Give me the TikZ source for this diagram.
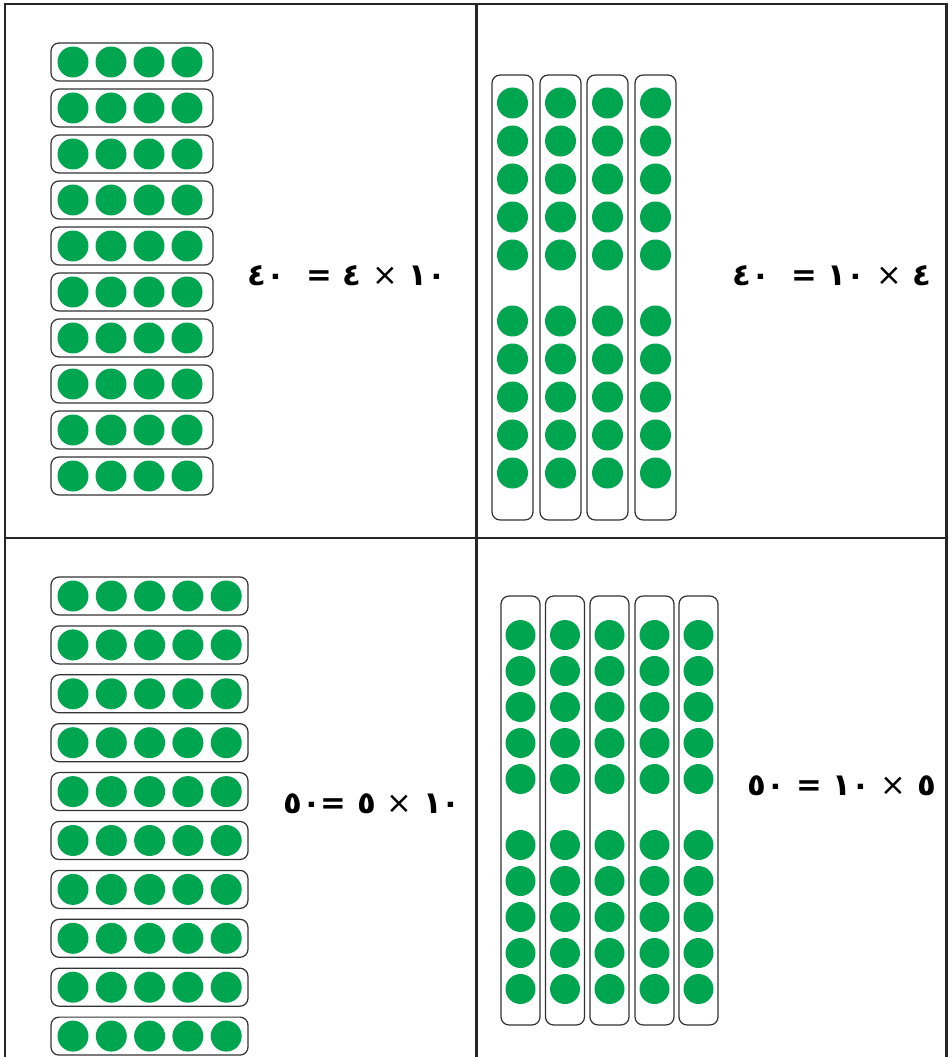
\documentclass[tikz,border=0pt]{standalone}
\usepackage{fontspec}
\newfontfamily\arabicfont{DejaVu Sans}
\definecolor{dotgreen}{RGB}{0,165,80}
\newcommand{\tms}{{\mdseries ×}}
\tikzset{
  dot/.style={circle, fill=dotgreen, inner sep=0pt, minimum size=0.62cm},
  smalldot/.style={circle, fill=dotgreen, inner sep=0pt, minimum size=0.6cm},
  rowbox/.style={draw=black!80, line width=0.7pt, rounded corners=0.16cm, minimum height=0.76cm, inner sep=0pt},
  colbox/.style={draw=black!80, line width=0.7pt, rounded corners=0.16cm, inner sep=0pt},
  eqn/.style={font=\arabicfont\bfseries\fontsize{17.5}{20}\selectfont, inner sep=0pt}
}
\begin{document}
\begin{tikzpicture}[x=0.02cm, y=-0.02cm]
\useasboundingbox (0,0) rectangle (949,1057);
% frame
\draw[line width=1.7pt, black!85] (5,1060) -- (5,4) -- (946,4) -- (946,1060);
\draw[line width=1.7pt, black!85] (476,4) -- (476,1060);
\draw[line width=1.7pt, black!85] (5,538) -- (946,538);

% top left: ten rows of four
\foreach \i in {0,...,9} {
  \node[rowbox, minimum width=3.24cm] (tl\i) at (132,62+46*\i) {};
  \foreach \j in {0,...,3}
    \node[dot] (tl\i d\j) at (73+38*\j,62+46*\i) {};
}
\node[eqn] (eqtl) at (347,276) {٤٠\ \ =\ ٤\ \tms\ ١٠};

% top right: four columns of ten
\foreach \x [count=\c] in {512.5,560.5,607.5,655.5} {
  \node[colbox, minimum width=0.82cm, minimum height=8.9cm] (tr\c) at (\x,297.5) {};
  \foreach \k in {0,...,4} {
    \node[dot] (tr\c a\k) at (\x,103+38*\k) {};
    \node[dot] (tr\c b\k) at (\x,321+38*\k) {};
  }
}
\node[eqn] (eqtr) at (832,276) {٤٠\ \ =\ ١٠\ \tms\ ٤};

% bottom left: ten rows of five
\foreach \i in {0,...,9} {
  \node[rowbox, minimum width=3.94cm] (bl\i) at (149.5,596+48.9*\i) {};
  \foreach \j in {0,...,4}
    \node[dot] (bl\i d\j) at (73+38.3*\j,596+48.9*\i) {};
}
\node[eqn] (eqbl) at (372,804) {٥٠=\ ٥\ \tms\ ١٠};

% bottom right: five columns of ten
\foreach \x [count=\c] in {520.5,565,609.5,654.5,698.5} {
  \node[colbox, minimum width=0.78cm, minimum height=8.58cm] (br\c) at (\x,810.5) {};
  \foreach \k in {0,...,4} {
    \node[smalldot] (br\c a\k) at (\x,635+36*\k) {};
    \node[smalldot] (br\c b\k) at (\x,845+36*\k) {};
  }
}
\node[eqn] (eqbr) at (842,786) {٥٠\ =\ ١٠\ \tms\ ٥};
\end{tikzpicture}
\end{document}
